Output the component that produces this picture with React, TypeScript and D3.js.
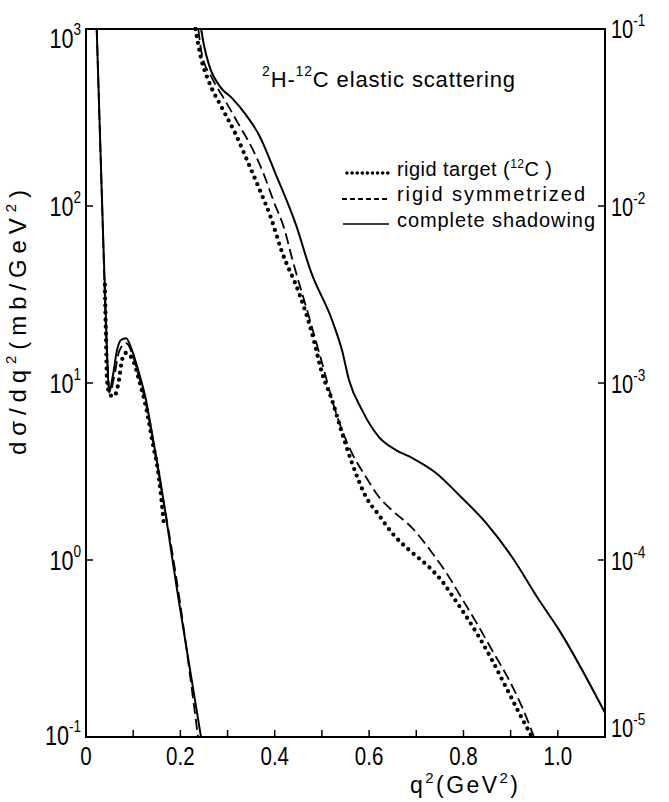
import React from "react";
import * as d3 from "d3";

// ---- axis data ----
const xTickValues = [0, 0.1, 0.2, 0.3, 0.4, 0.5, 0.6, 0.7, 0.8, 0.9, 1.0, 1.1];
const xLabelValues = [0, 0.2, 0.4, 0.6, 0.8, 1.0];
const xLabelTexts = ["0", "0.2", "0.4", "0.6", "0.8", "1.0"];
const leftTickValues = [1000, 100, 10, 1, 0.1];
const leftTickExponents = ["3", "2", "1", "0", "-1"];
const rightTickValues = [0.1, 0.01, 0.001, 0.0001, 0.00001];
const rightTickExponents = ["-1", "-2", "-3", "-4", "-5"];

// ---- low-q branch (left axis, mb/GeV^2) ----
const lowSolidQ = [0.0227, 0.0339, 0.0445, 0.0487, 0.0572, 0.0657, 0.0742, 0.0848, 0.0975, 0.1123, 0.1272, 0.1399, 0.1547, 0.1971, 0.2437];
const lowSolidV = [1000, 108, 15.3, 8.8, 11.1, 15.3, 17.5, 17.9, 15.3, 11.4, 8.0, 5.2, 3.1, 0.58, 0.1];

const lowDashedQ = [0.0227, 0.0339, 0.0445, 0.0509, 0.0615, 0.0699, 0.0848, 0.0996, 0.1123, 0.1272, 0.1399, 0.1547, 0.1971, 0.2374];
const lowDashedV = [1000, 108, 14.2, 8.9, 11.5, 15.0, 16.8, 14.2, 10.8, 7.6, 5.0, 3.0, 0.63, 0.1];

const lowDottedQ = [0.0400, 0.0424, 0.0445, 0.0500, 0.0593, 0.0699, 0.0763, 0.0848, 0.1017, 0.1123, 0.1272, 0.1399, 0.1547, 0.1650];
const lowDottedV = [36, 18, 10.5, 8.6, 8.4, 10.4, 13.5, 14.8, 13.0, 10.4, 7.3, 4.8, 2.9, 1.6];

// ---- high-q branch (right axis) ----
const highSolidQ = [0.2440, 0.2500, 0.2607, 0.2861, 0.3095, 0.3391, 0.3667, 0.4027, 0.4451, 0.4769, 0.5214, 0.5426, 0.5574, 0.5850, 0.6210, 0.6571, 0.6910, 0.7418, 0.7906, 0.8478, 0.9029, 0.9602, 1.0025, 1.1000];
const highSolidV = [0.1, 0.081, 0.0627, 0.0465, 0.0407, 0.0327, 0.0252, 0.0150, 0.00782, 0.00424, 0.00227, 0.00153, 0.00104, 0.000703, 0.000495, 0.000418, 0.000377, 0.000310, 0.000233, 0.000162, 0.000104, 0.0000594, 0.0000403, 0.0000137];

const highDashedQ = [0.2380, 0.2459, 0.2671, 0.2967, 0.3243, 0.3518, 0.3773, 0.3985, 0.4197, 0.4366, 0.4727, 0.5002, 0.5299, 0.5574, 0.5935, 0.6210, 0.6486, 0.6910, 0.7334, 0.7694, 0.7948, 0.8330, 0.8605, 0.8966, 0.9241, 0.9495];
const highDashedV = [0.1, 0.0713, 0.0528, 0.0387, 0.0287, 0.0213, 0.0150, 0.0105, 0.00752, 0.00508, 0.00236, 0.00130, 0.000678, 0.000435, 0.000294, 0.000227, 0.000191, 0.000152, 0.000110, 0.0000802, 0.0000618, 0.0000418, 0.0000310, 0.0000210, 0.0000148, 0.00001];

const highDottedQ = [0.2321, 0.2437, 0.2607, 0.2883, 0.3179, 0.3455, 0.3667, 0.3921, 0.4154, 0.4515, 0.4790, 0.5002, 0.5214, 0.5426, 0.5638, 0.5935, 0.6210, 0.6486, 0.6846, 0.7270, 0.7546, 0.7758, 0.8330, 0.8605, 0.8902, 0.9178, 0.9453];
const highDottedV = [0.1, 0.0686, 0.0502, 0.0358, 0.0252, 0.0171, 0.0126, 0.00855, 0.00550, 0.00322, 0.00191, 0.00114, 0.000802, 0.000522, 0.000353, 0.000227, 0.000179, 0.000142, 0.000114, 0.0000912, 0.0000759, 0.0000631, 0.0000367, 0.0000272, 0.0000191, 0.0000137, 0.00001];

const legendLabels = ["rigid target", "rigid symmetrized", "complete shadowing"];

const FONT = "'Liberation Sans', Arial, sans-serif";

export default function App() {
  const W = 669, H = 802;
  const L = 86, R = 605, T = 29, B = 737;
  const x = d3.scaleLinear().domain([0, 1.1]).range([L, R]);
  const yL = d3.scaleLog().domain([0.1, 1000]).range([B, T]);
  const yR = d3.scaleLog().domain([1e-5, 0.1]).range([B, T]);

  const path = (qs: number[], vs: number[], y: any) =>
    d3.line<[number, number]>()
      .x((d) => x(d[0]))
      .y((d) => y(d[1]))
      .curve(d3.curveMonotoneX)(qs.map((q, i) => [q, vs[i]] as [number, number])) || "";

  const solid = { fill: "none", stroke: "#000", strokeWidth: 2 };
  const dashed = { fill: "none", stroke: "#000", strokeWidth: 1.8, strokeDasharray: "11 5" };
  const dotted = { fill: "none", stroke: "#000", strokeWidth: 4.3, strokeDasharray: "0 7", strokeLinecap: "round" as const };

  const lastL = leftTickValues.length - 1;

  return (
    <svg width={W} height={H} style={{ position: "absolute", left: 0, top: 0, background: "#fff" }} fontFamily={FONT}>
      <rect x={0} y={0} width={W} height={H} fill="#fff" />
      <defs>
        <clipPath id="plotclip">
          <rect x={L} y={T - 2} width={R - L} height={B - T + 4} />
        </clipPath>
      </defs>

      {/* curves */}
      <g clipPath="url(#plotclip)">
        <path d={path(lowSolidQ, lowSolidV, yL)} {...solid} />
        <path d={path(lowDashedQ, lowDashedV, yL)} {...dashed} />
        <path d={path(lowDottedQ, lowDottedV, yL)} {...dotted} />
        <path d={path(highSolidQ, highSolidV, yR)} {...solid} />
        <path d={path(highDashedQ, highDashedV, yR)} {...dashed} />
        <path d={path(highDottedQ, highDottedV, yR)} {...dotted} />
      </g>

      {/* frame */}
      <rect x={L} y={T} width={R - L} height={B - T} fill="none" stroke="#000" strokeWidth={2} />

      {/* x ticks */}
      {xTickValues.map((v, i) => (
        <line key={"xt" + i} x1={x(v)} x2={x(v)} y1={B} y2={B - 7} stroke="#000" strokeWidth={1.5} />
      ))}
      {xLabelValues.map((v, i) => (
        <g key={"xl" + i} transform={`translate(${x(v)},765) scale(0.82,1)`}>
          <text textAnchor="middle" fontSize={25}>{xLabelTexts[i]}</text>
        </g>
      ))}

      {/* left ticks */}
      {leftTickValues.map((v, i) => (
        <line key={"lt" + i} x1={L} x2={L + 7} y1={yL(v)} y2={yL(v)} stroke="#000" strokeWidth={1.5} />
      ))}
      {leftTickValues.map((v, i) => {
        const off = i === 0 ? 19 : i === lastL ? 8 : 10;
        return (
          <g key={"ll" + i} transform={`translate(81,${yL(v) + off}) scale(0.8,1)`}>
            <text textAnchor="end" fontSize={27}>
              10<tspan fontSize={17} dy={-13}>{leftTickExponents[i]}</tspan>
            </text>
          </g>
        );
      })}

      {/* right ticks */}
      {rightTickValues.map((v, i) => (
        <line key={"rt" + i} x1={R - 7} x2={R} y1={yR(v)} y2={yR(v)} stroke="#000" strokeWidth={1.5} />
      ))}
      {rightTickValues.map((v, i) => {
        const off = i === 0 ? 9 : i === rightTickValues.length - 1 ? 0 : 10;
        return (
          <g key={"rl" + i} transform={`translate(611,${yR(v) + off}) scale(0.8,1)`}>
            <text textAnchor="start" fontSize={25}>
              10<tspan fontSize={17} dy={-12}>{rightTickExponents[i]}</tspan>
            </text>
          </g>
        );
      })}

      {/* axis titles */}
      <text x={410} y={793} fontSize={23} textLength={108} lengthAdjust="spacing">
        q<tspan fontSize={15} dy={-10}>2</tspan><tspan dy={10}>(GeV</tspan><tspan fontSize={15} dy={-10}>2</tspan><tspan dy={10}>)</tspan>
      </text>
      <text transform="translate(26,455) rotate(-90)" fontSize={24} textLength={265} lengthAdjust="spacing">
        dσ/dq<tspan fontSize={15} dy={-10}>2</tspan><tspan dy={10}>(mb/GeV</tspan><tspan fontSize={15} dy={-10}>2</tspan><tspan dy={10}>)</tspan>
      </text>

      {/* title */}
      <text x={262} y={87} fontSize={22} textLength={253} lengthAdjust="spacing">
        <tspan fontSize={14} dy={-11}>2</tspan><tspan dy={11}>H-</tspan><tspan fontSize={14} dy={-11}>12</tspan><tspan dy={11}>C elastic scattering</tspan>
      </text>

      {/* legend */}
      <line x1={347} x2={388} y1={173} y2={173} {...dotted} strokeWidth={3.6} strokeDasharray="0 5.1" />
      <line x1={342} x2={389} y1={199} y2={199} {...dashed} strokeDasharray="5 3" />
      <line x1={343} x2={389} y1={224} y2={224} {...solid} strokeWidth={1.6} />
      <text x={397} y={176} fontSize={20} textLength={155} lengthAdjust="spacing">
        {legendLabels[0]} (<tspan fontSize={12} dy={-8}>12</tspan><tspan dy={8}>C )</tspan>
      </text>
      <text x={397} y={201} fontSize={20} textLength={188} lengthAdjust="spacing">{legendLabels[1]}</text>
      <text x={397} y={227} fontSize={20} textLength={198} lengthAdjust="spacing">{legendLabels[2]}</text>
    </svg>
  );
}
